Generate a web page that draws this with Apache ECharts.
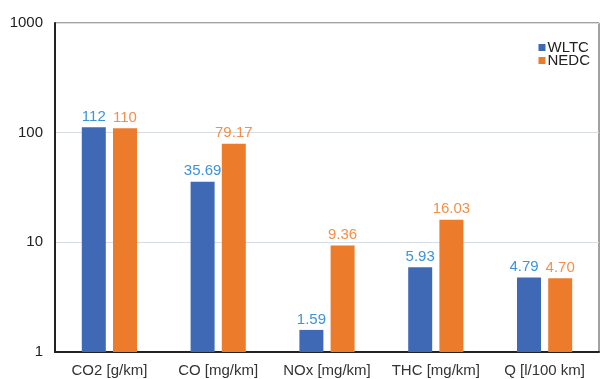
<!DOCTYPE html>
<html><head><meta charset="utf-8">
<script src="https://cdn.jsdelivr.net/npm/echarts@6/dist/echarts.min.js"></script>
<style>html,body{margin:0;padding:0;background:#fff}#c{width:602px;height:379px}</style>
</head><body><div id="c"></div>
<script>
var categories = ['CO2 [g/km]', 'CO [mg/km]', 'NOx [mg/km]', 'THC [mg/km]', 'Q [l/100 km]'];
var wltc = [112, 35.69, 1.59, 5.93, 4.79];
var nedc = [110, 79.17, 9.36, 16.03, 4.70];
var wltcLabels = ['112', '35.69', '1.59', '5.93', '4.79'];
var nedcLabels = ['110', '79.17', '9.36', '16.03', '4.70'];
var yTicks = [1, 10, 100, 1000];

var chart = echarts.init(document.getElementById('c'));
var font = 'Liberation Sans, Arial, sans-serif';
var wltcData = wltc.map(function (v, i) {
  return i === 4 ? {value: v, label: {offset: [-5, 0]}} : v;
});
chart.setOption({
  animation: false,
  grid: {left: 55, right: 3, top: 23, bottom: 27, show: true, borderColor: '#444', borderWidth: 1},
  legend: {
    data: ['WLTC', 'NEDC'], orient: 'vertical', right: 7, top: 35,
    icon: 'rect', itemWidth: 7, itemHeight: 7, itemGap: -2,
    textStyle: {fontFamily: font, fontSize: 15, color: '#222', padding: [0,0,0,-3]}
  },
  xAxis: {
    type: 'category', data: categories,
    axisLine: {lineStyle: {color: '#222', width: 2}},
    axisTick: {show: false},
    axisLabel: {fontFamily: font, fontSize: 15, color: '#333', margin: 11, interval: 0, hideOverlap: false}
  },
  yAxis: {
    type: 'log', logBase: 10, min: 1, max: 1000,
    axisLine: {show: true, lineStyle: {color: '#222', width: 2}},
    axisTick: {show: false},
    splitLine: {lineStyle: {color: '#d8dde3', width: 1}},
    axisLabel: {fontFamily: font, fontSize: 15, color: '#222', margin: 12,
      formatter: function (v) { return yTicks.indexOf(Math.round(v)) >= 0 ? String(Math.round(v)) : ''; }}
  },
  series: [
    {name: 'WLTC', type: 'bar', data: wltcData, barWidth: 24, barGap: '30%',
     itemStyle: {color: '#4069B5'},
     label: {show: true, position: 'top', distance: 3, fontFamily: font, fontSize: 15, color: '#3B93DC',
       formatter: function (p) { return wltcLabels[p.dataIndex]; }}},
    {name: 'NEDC', type: 'bar', data: nedc, barWidth: 24,
     itemStyle: {color: '#EC7C2B'},
     label: {show: true, position: 'top', distance: 3, fontFamily: font, fontSize: 15, color: '#F2904A',
       formatter: function (p) { return nedcLabels[p.dataIndex]; }}}
  ]
});
</script></body></html>
